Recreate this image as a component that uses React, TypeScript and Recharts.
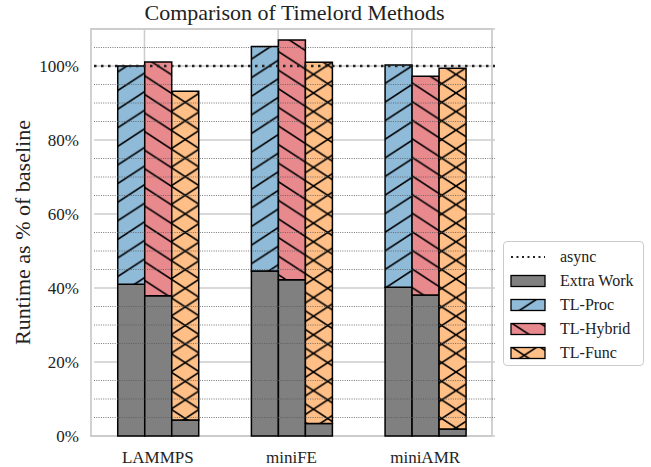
import React from 'react';
import { BarChart, Bar, XAxis, YAxis, CartesianGrid, ReferenceLine, ReferenceArea } from 'recharts';

const categories = ['LAMMPS', 'miniFE', 'miniAMR'];
const extraProc = [41.0, 44.6, 40.2];
const totalProc = [100.0, 105.3, 100.3];
const extraHybrid = [37.9, 42.2, 38.1];
const totalHybrid = [101.1, 107.0, 97.2];
const extraFunc = [4.3, 3.4, 1.9];
const totalFunc = [93.2, 101.0, 99.4];
const asyncValue = 100;
const yTicks = [0, 20, 40, 60, 80, 100];
const minorTicks = [5, 10, 15, 25, 30, 35, 45, 50, 55, 65, 70, 75, 85, 90, 95, 105];

const data = categories.map((name, i) => ({
  name,
  extraProc: extraProc[i],
  proc: totalProc[i] - extraProc[i],
  extraHybrid: extraHybrid[i],
  hybrid: totalHybrid[i] - extraHybrid[i],
  extraFunc: extraFunc[i],
  func: totalFunc[i] - extraFunc[i],
}));

const FONT = 'Liberation Serif, Times New Roman, serif';
const BLUE = '#8FBBD9';
const RED = '#E8898E';
const ORANGE = '#FFBF86';
const GREY = '#808080';
const W = 28.5;
const H = 18.6;

const fwd = `M0,${H} L${W},0 M${-W * 0.3},${H * 0.3} L${W * 0.3},${-H * 0.3} M${W * 0.7},${H * 1.3} L${W * 1.3},${H * 0.7}`;
const back = `M0,0 L${W},${H} M${W * 0.7},${-H * 0.3} L${W * 1.3},${H * 0.3} M${-W * 0.3},${H * 0.7} L${W * 0.3},${H * 1.3}`;

const Patterns = ({ suffix = '' }: { suffix?: string }) => (
  <defs>
    <pattern id={`hp${suffix}`} patternUnits="userSpaceOnUse" width={W} height={H}>
      <rect width={W} height={H} fill={BLUE} />
      <path d={fwd} stroke="#000" strokeWidth={1.6} />
    </pattern>
    <pattern id={`hh${suffix}`} patternUnits="userSpaceOnUse" width={W} height={H}>
      <rect width={W} height={H} fill={RED} />
      <path d={back} stroke="#000" strokeWidth={1.6} />
    </pattern>
    <pattern id={`hf${suffix}`} patternUnits="userSpaceOnUse" width={W} height={H}>
      <rect width={W} height={H} fill={ORANGE} />
      <path d={fwd} stroke="#000" strokeWidth={1.6} />
      <path d={back} stroke="#000" strokeWidth={1.6} />
    </pattern>
  </defs>
);

const legendItems = [
  { label: 'async', kind: 'line' },
  { label: 'Extra Work', fill: GREY },
  { label: 'TL-Proc', fill: 'url(#hpL)' },
  { label: 'TL-Hybrid', fill: 'url(#hhL)' },
  { label: 'TL-Func', fill: 'url(#hfL)' },
];

const gridGen = (props: any) => {
  try {
    const xAxis = props && props.xAxis;
    if (!xAxis || !xAxis.scale) return [];
    const s = xAxis.scale;
    const call = (v: any) =>
      typeof s === 'function' ? s(v) : typeof s.map === 'function' ? s.map(v) : typeof s.apply === 'function' ? s.apply(v) : undefined;
    const bw = typeof s.bandwidth === 'function' ? s.bandwidth() : 0;
    const out = categories.map((c) => call(c)).filter((v: any) => typeof v === 'number' && isFinite(v));
    return out.map((v: number) => v + 0.4 * bw);
  } catch (e) {
    return [];
  }
};

const tickStyle = { fontSize: 17, fontFamily: FONT, fill: '#222' };

export default function App() {
  return (
    <div style={{ position: 'absolute', left: 0, top: 0, width: 651, height: 467, background: '#fff', fontFamily: FONT }}>
      <svg width={0} height={0} style={{ position: 'absolute' }}>
        <Patterns />
        <Patterns suffix="L" />
      </svg>
      <div style={{ position: 'absolute', left: 94, top: 2, width: 401, textAlign: 'center', fontSize: 22, lineHeight: '22px', color: '#222' }}>
        Comparison of Timelord Methods
      </div>
      <BarChart
        width={651}
        height={467}
        data={data}
        margin={{ top: 29, right: 156, bottom: 0, left: 0 }}
        barCategoryGap="20%"
        barGap={0}
        style={{ fontFamily: FONT }}
      >
        <ReferenceArea y1={0} y2={110} fill="none" stroke="#cccccc" strokeWidth={1.8} ifOverflow="extendDomain" />
        <CartesianGrid stroke="#cccccc" strokeWidth={1.5} verticalCoordinatesGenerator={gridGen} />
        {minorTicks.map((v) => (
          <ReferenceLine key={v} y={v} stroke="#555" strokeWidth={0.8} strokeDasharray="1 1.3" />
        ))}
        <XAxis
          dataKey="name"
          height={31}
          tickSize={0}
          tickMargin={15}
          axisLine={false}
          padding={{ left: -3, right: 3 }}
          tick={tickStyle}
        />
        <YAxis
          width={94}
          domain={[0, 110]}
          ticks={yTicks}
          tickFormatter={(v: number) => `${v}%`}
          tickSize={0}
          tickMargin={15}
          axisLine={false}
          tick={tickStyle}
          label={{
            content: (p: any) => {
              const vb = p.viewBox || { y: 29, height: 407 };
              const cy = vb.y + vb.height / 2;
              return (
                <text x={22} y={cy} transform={`rotate(-90, 22, ${cy})`} textAnchor="middle" dominantBaseline="central" fontSize={22} fontFamily={FONT} fill="#222">
                  Runtime as % of baseline
                </text>
              );
            },
          }}
        />
        <Bar dataKey="extraProc" stackId="p" fill={GREY} stroke="#000" strokeWidth={1.5} isAnimationActive={false} />
        <Bar dataKey="proc" stackId="p" fill="url(#hp)" stroke="#000" strokeWidth={1.5} isAnimationActive={false} />
        <Bar dataKey="extraHybrid" stackId="h" fill={GREY} stroke="#000" strokeWidth={1.5} isAnimationActive={false} />
        <Bar dataKey="hybrid" stackId="h" fill="url(#hh)" stroke="#000" strokeWidth={1.5} isAnimationActive={false} />
        <Bar dataKey="extraFunc" stackId="f" fill={GREY} stroke="#000" strokeWidth={1.5} isAnimationActive={false} />
        <Bar dataKey="func" stackId="f" fill="url(#hf)" stroke="#000" strokeWidth={1.5} isAnimationActive={false} />
        <ReferenceLine y={asyncValue} stroke="#222" strokeWidth={2.5} strokeDasharray="2.5 4.5" />
      </BarChart>
      <div
        style={{
          position: 'absolute',
          left: 503,
          top: 241,
          width: 141,
          height: 125,
          border: '1px solid #cccccc',
          borderRadius: 4,
          background: '#fff',
          boxSizing: 'border-box',
        }}
      >
        {legendItems.map((it, i) => (
          <div key={it.label} style={{ position: 'absolute', left: 6, top: 4 + i * 24, height: 22, display: 'flex', alignItems: 'center' }}>
            <svg width={36} height={14} style={{ display: 'block' }}>
              {it.kind === 'line' ? (
                <line x1={1} y1={7} x2={35} y2={7} stroke="#222" strokeWidth={2} strokeDasharray="2 3.5" />
              ) : (
                <rect x={1} y={1.5} width={34} height={11} fill={it.fill} stroke="#000" strokeWidth={1.3} />
              )}
            </svg>
            <span style={{ marginLeft: 14, fontSize: 16, color: '#222', lineHeight: '22px', whiteSpace: 'nowrap' }}>{it.label}</span>
          </div>
        ))}
      </div>
    </div>
  );
}
